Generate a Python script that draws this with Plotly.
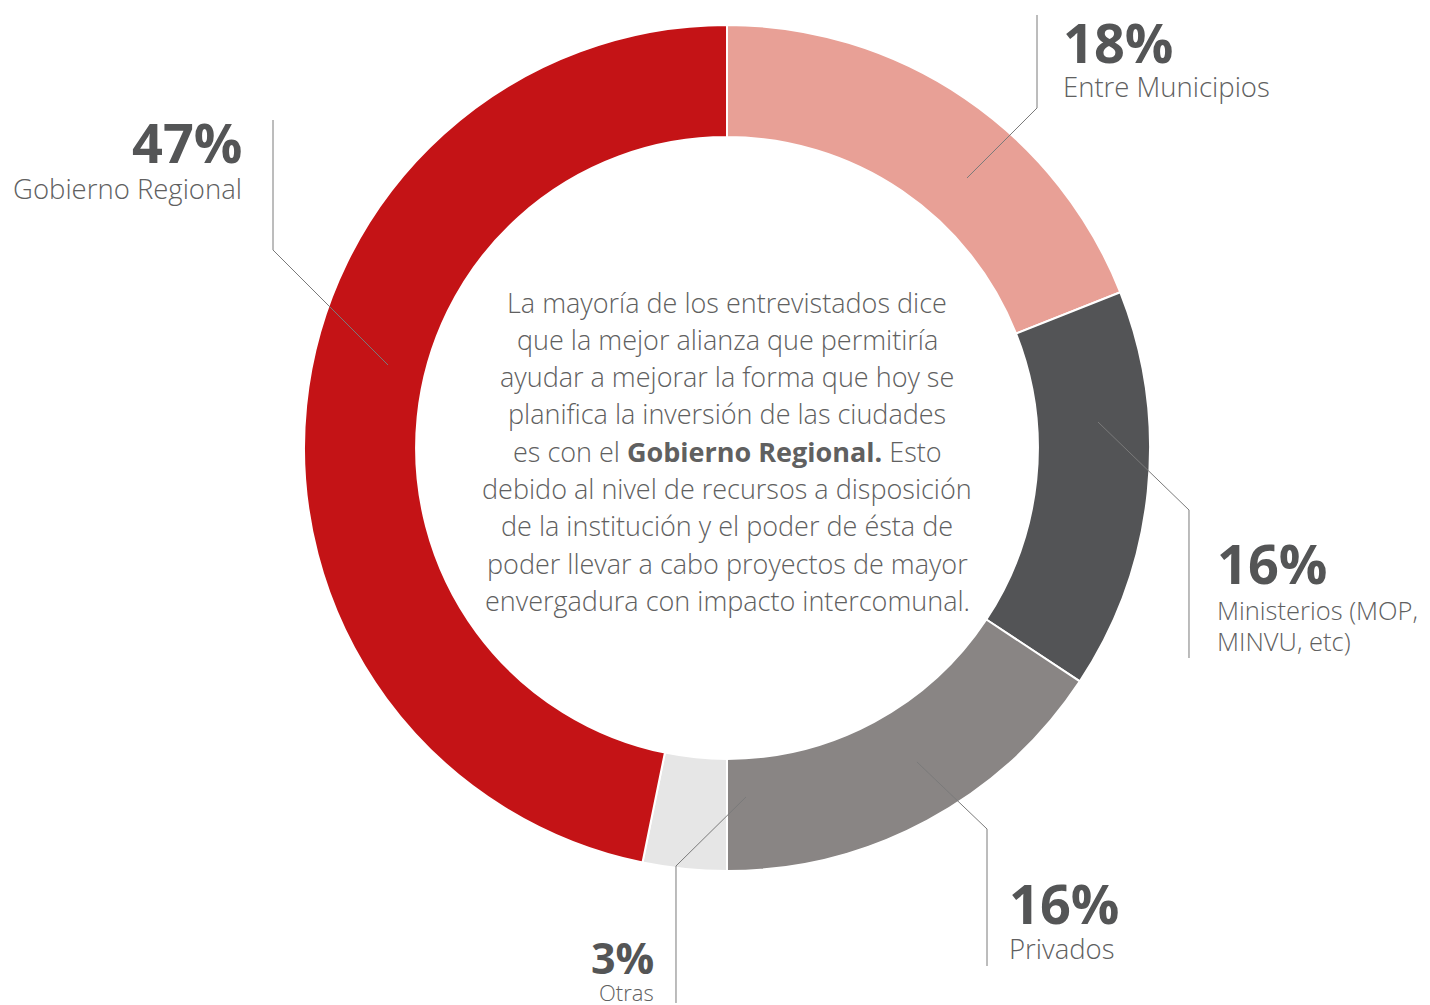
import plotly.graph_objects as go

# The page body adds an 8px margin; size the figure to fit the window
OFF = 8
W, H = 1430 - OFF, 1005 - OFF

# Slice data (clockwise from 12 o'clock), shares
categories = ["Entre Municipios", "Ministerios (MOP, MINVU, etc)", "Privados", "Otras", "Gobierno Regional"]
shares = [19.0, 15.3, 15.7, 3.2, 46.8]
pct_labels = ["18%", "16%", "16%", "3%", "47%"]
colors = ["#E8A096", "#535456", "#898584", "#E6E6E6", "#C41316"]

center_lines = [
    "La mayoría de los entrevistados dice",
    "que la mejor alianza que permitiría",
    "ayudar a mejorar la forma que hoy se",
    "planifica la inversión de las ciudades",
    "es con el <b>Gobierno Regional.</b> Esto",
    "debido al nivel de recursos a disposición",
    "de la institución y el poder de ésta de",
    "poder llevar a cabo proyectos de mayor",
    "envergadura con impacto intercomunal.",
]

FONT = "Open Sans"
DARK = "#545556"
TXT = "#606060"


def px(x):
    return (x - OFF) / W


def py(y):
    return 1 - (y - OFF) / H


fig = go.Figure()
fig.add_trace(go.Pie(
    labels=categories,
    values=shares,
    sort=False,
    direction="clockwise",
    rotation=0,
    hole=0.735,
    marker=dict(colors=colors, line=dict(color="white", width=2)),
    textinfo="none",
    hoverinfo="label+percent",
    showlegend=False,
    domain=dict(x=[px(304), px(1150)], y=[py(871), py(25)]),
))

annotations = []

# Center text, one annotation per line
for i, line in enumerate(center_lines):
    annotations.append(dict(
        x=px(727), y=py(302 + i * 37.3), xref="paper", yref="paper",
        text=line, showarrow=False, xanchor="center", yanchor="middle",
        font=dict(family=FONT, size=27, color=TXT, weight=300),
    ))

# Outer labels: (pct index, x, anchor, y_pct, [(name, y)], pct size, name size)
label_specs = [
    (4, 244, "right", 142, [("Gobierno Regional", 189)], 54, 27.5),
    (0, 1061, "left", 42, [("Entre Municipios", 86)], 54, 27.5),
    (1, 1215, "left", 563, [("Ministerios (MOP,", 610), ("MINVU, etc)", 641)], 54, 25.5),
    (2, 1007, "left", 903, [("Privados", 948)], 54, 27.5),
    (3, 656, "right", 957, [("Otras", 992)], 43, 22),
]
for idx, x, anchor, ypct, names, s1, s2 in label_specs:
    annotations.append(dict(
        x=px(x), y=py(ypct), xref="paper", yref="paper",
        text="<b>" + pct_labels[idx] + "</b>", showarrow=False,
        xanchor=anchor, yanchor="middle",
        font=dict(family=FONT, size=s1, color=DARK),
    ))
    for name, yy in names:
        annotations.append(dict(
            x=px(x), y=py(yy), xref="paper", yref="paper",
            text=name, showarrow=False, xanchor=anchor, yanchor="middle",
            font=dict(family=FONT, size=s2, color=TXT, weight=300),
        ))

# Leader lines
leaders = [
    [(273, 120), (273, 250), (388, 365)],
    [(1037, 15), (1037, 108), (967, 178)],
    [(1098, 422), (1189, 510), (1189, 658)],
    [(917, 762), (987, 829), (987, 966)],
    [(746, 797), (676, 866), (676, 1003)],
]
shapes = []
for pts in leaders:
    path = "M " + " L ".join(f"{px(a):.5f},{py(b):.5f}" for a, b in pts)
    shapes.append(dict(type="path", path=path, xref="paper", yref="paper",
                       line=dict(color="#7a7a7a", width=1)))

fig.update_layout(
    width=W, height=H,
    margin=dict(l=0, r=0, t=0, b=0),
    paper_bgcolor="white", plot_bgcolor="white",
    annotations=annotations, shapes=shapes,
)

fig.write_html("out.html")
